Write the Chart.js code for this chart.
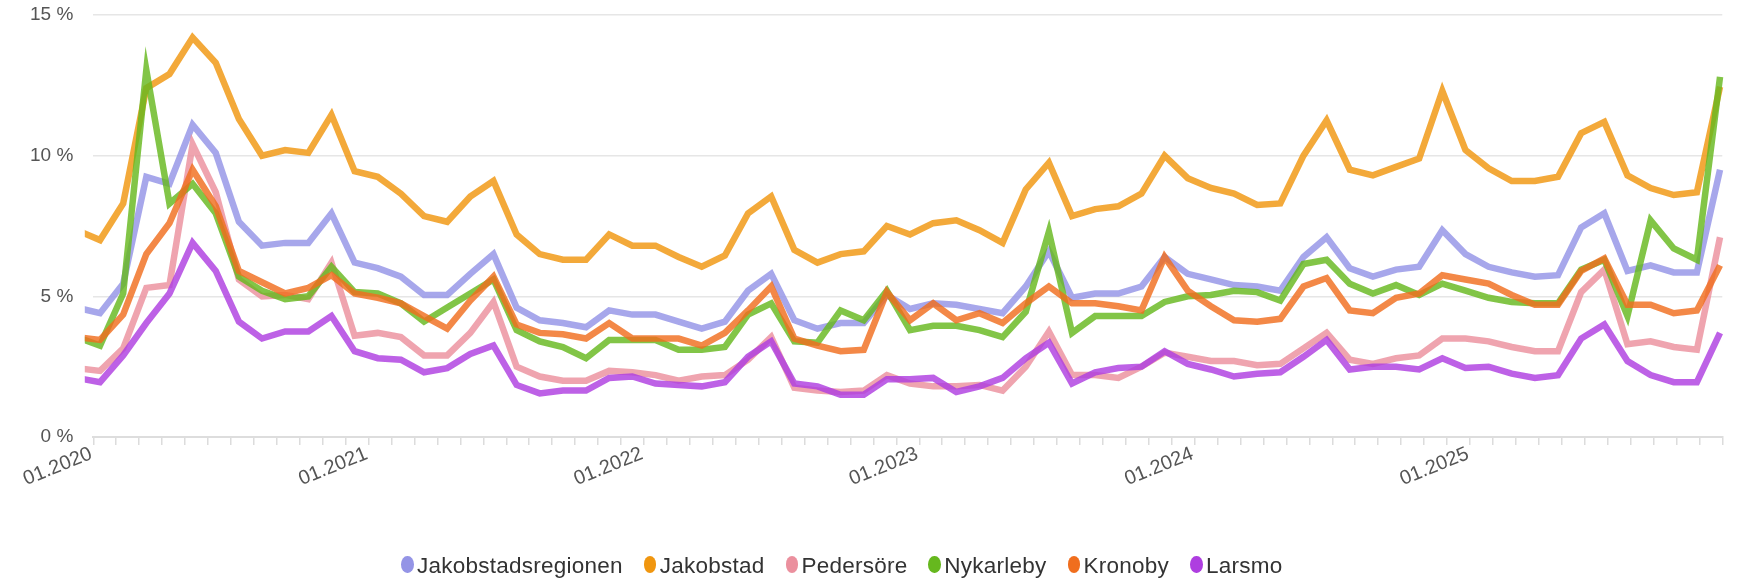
<!DOCTYPE html>
<html>
<head>
<meta charset="utf-8">
<title>Arbetslöshet</title>
<script src="https://cdn.jsdelivr.net/npm/chart.js@4/dist/chart.umd.min.js"></script>
<style>
  html, body { margin: 0; padding: 0; background: #fff; }
  #wrap { position: relative; width: 1737px; height: 579px; overflow: hidden; }
  #legend {
    position: absolute; left: 401px; top: 556px; height: 17px;
    display: flex; align-items: center; white-space: nowrap;
    font-family: 'Liberation Sans', Arial, sans-serif; font-size: 22.5px; line-height: 17px;
    letter-spacing: 0.25px; color: #333;
  }
  #legend .item { display: flex; align-items: center; margin-right: 21px; }
  #legend .dot { width: 12.5px; height: 16.5px; border-radius: 50%; margin-right: 3.4px; }
  #legend .txt { position: relative; top: 1px; }
</style>
</head>
<body>
<div id="wrap">
  <canvas id="chart" width="1737" height="579"></canvas>
  <div id="legend"></div>
</div>
<script>
// Months 01.2020 – 12.2025
const months = [];
for (let y = 2020; y <= 2025; y++) {
  for (let m = 1; m <= 12; m++) months.push(String(m).padStart(2, '0') + '.' + y);
}
// Axis labels: January of each year, except the last year's closing tick
const tickLabels = months.map((m, i) => (m.startsWith('01.') && i <= 60) ? m : '');

const seriesNames = ['Jakobstadsregionen', 'Jakobstad', 'Pedersöre', 'Nykarleby', 'Kronoby', 'Larsmo'];
const seriesColors = ['#9494e6', '#f0960f', '#eb909e', '#66b81e', '#f06e1e', '#ae3ee0'];

// Unemployment rate, %
const jakobstadsregionen = [
  4.6, 4.4, 5.45, 9.25, 9.0, 11.1, 10.1, 7.65, 6.8, 6.9, 6.9, 7.95,
  6.2, 6.0, 5.7, 5.05, 5.05, 5.8, 6.5, 4.6, 4.15, 4.05, 3.9, 4.5,
  4.35, 4.35, 4.1, 3.85, 4.1, 5.2, 5.8, 4.15, 3.85, 4.05, 4.05, 5.05,
  4.55, 4.75, 4.7, 4.55, 4.4, 5.35, 6.6, 4.95, 5.1, 5.1, 5.35, 6.4,
  5.8, 5.6, 5.4, 5.35, 5.2, 6.4, 7.1, 6.0, 5.7, 5.95, 6.05, 7.35,
  6.5, 6.05, 5.85, 5.7, 5.75, 7.45, 7.95, 5.9, 6.1, 5.85, 5.85, 9.5
];
const jakobstad = [
  7.35, 7.0, 8.3, 12.4, 12.9, 14.2, 13.3, 11.3, 10.0, 10.2, 10.1, 11.45,
  9.45, 9.25, 8.65, 7.85, 7.65, 8.55, 9.1, 7.2, 6.5, 6.3, 6.3, 7.2,
  6.8, 6.8, 6.4, 6.05, 6.45, 7.95, 8.55, 6.65, 6.2, 6.5, 6.6, 7.5,
  7.2, 7.6, 7.7, 7.35, 6.9, 8.8, 9.75, 7.85, 8.1, 8.2, 8.65, 10.0,
  9.2, 8.85, 8.65, 8.25, 8.3, 10.0, 11.25, 9.5, 9.3, 9.6, 9.9, 12.3,
  10.2, 9.55, 9.1, 9.1, 9.25, 10.8, 11.2, 9.3, 8.85, 8.6, 8.7, 12.45
];
const pedersore = [
  2.45, 2.35, 3.15, 5.3, 5.4, 10.4, 8.7, 5.6, 5.0, 5.05, 4.9, 6.2,
  3.6, 3.7, 3.55, 2.9, 2.9, 3.7, 4.8, 2.5, 2.15, 2.0, 2.0, 2.35,
  2.3, 2.2, 2.0, 2.15, 2.2, 2.75, 3.55, 1.75, 1.65, 1.6, 1.65, 2.2,
  1.9, 1.8, 1.8, 1.85, 1.65, 2.5, 3.75, 2.2, 2.2, 2.1, 2.5, 3.0,
  2.85, 2.7, 2.7, 2.55, 2.6, 3.15, 3.7, 2.75, 2.6, 2.8, 2.9, 3.5,
  3.5, 3.4, 3.2, 3.05, 3.05, 5.15, 5.95, 3.3, 3.4, 3.2, 3.1, 7.1
];
const nykarleby = [
  3.55, 3.25, 5.1, 13.05, 8.3, 9.0, 7.95, 5.7, 5.2, 4.9, 5.0, 6.05,
  5.15, 5.1, 4.75, 4.1, 4.6, 5.1, 5.6, 3.8, 3.4, 3.2, 2.8, 3.45,
  3.45, 3.45, 3.1, 3.1, 3.2, 4.35, 4.75, 3.4, 3.35, 4.5, 4.15, 5.2,
  3.8, 3.95, 3.95, 3.8, 3.55, 4.45, 7.3, 3.7, 4.3, 4.3, 4.3, 4.8,
  5.0, 5.05, 5.2, 5.15, 4.85, 6.15, 6.3, 5.45, 5.1, 5.4, 5.05, 5.45,
  5.2, 4.95, 4.8, 4.75, 4.75, 5.95, 6.3, 4.3, 7.7, 6.7, 6.3, 12.8
];
const kronoby = [
  3.55, 3.45, 4.35, 6.5, 7.6, 9.5, 8.2, 5.9, 5.5, 5.1, 5.3, 5.75,
  5.1, 4.95, 4.75, 4.3, 3.85, 4.85, 5.7, 4.0, 3.7, 3.65, 3.5, 4.05,
  3.5, 3.5, 3.5, 3.25, 3.7, 4.5, 5.35, 3.5, 3.25, 3.05, 3.1, 5.15,
  4.15, 4.75, 4.15, 4.4, 4.05, 4.75, 5.35, 4.75, 4.75, 4.65, 4.5, 6.4,
  5.2, 4.65, 4.15, 4.1, 4.2, 5.35, 5.65, 4.5, 4.4, 4.95, 5.1, 5.75,
  5.6, 5.45, 5.05, 4.7, 4.7, 5.9, 6.35, 4.7, 4.7, 4.4, 4.5, 6.1
];
const larsmo = [
  2.1, 1.95, 2.9, 4.05, 5.1, 6.9, 5.9, 4.1, 3.5, 3.75, 3.75, 4.3,
  3.05, 2.8, 2.75, 2.3, 2.45, 2.95, 3.25, 1.85, 1.55, 1.65, 1.65, 2.1,
  2.15, 1.9, 1.85, 1.8, 1.95, 2.85, 3.4, 1.9, 1.8, 1.5, 1.5, 2.05,
  2.05, 2.1, 1.6, 1.8, 2.1, 2.8, 3.35, 1.9, 2.3, 2.45, 2.5, 3.05,
  2.6, 2.4, 2.15, 2.25, 2.3, 2.85, 3.45, 2.4, 2.5, 2.5, 2.4, 2.8,
  2.45, 2.5, 2.25, 2.1, 2.2, 3.5, 4.0, 2.7, 2.2, 1.95, 1.95, 3.7
];
const seriesValues = [jakobstadsregionen, jakobstad, pedersore, nykarleby, kronoby, larsmo];

// Axis tick grid (in month units of the data index)
const tickStart = 0.709;
const tickStep = 0.9914;
const tickCount = months.length;

function withAlpha(hex, a) {
  const n = parseInt(hex.slice(1), 16);
  return 'rgba(' + (n >> 16) + ',' + ((n >> 8) & 255) + ',' + (n & 255) + ',' + a + ')';
}

// Legend rendered as HTML from the chart's own legend items
const htmlLegend = {
  id: 'htmlLegend',
  afterUpdate(chart) {
    const box = document.getElementById('legend');
    box.innerHTML = '';
    const items = chart.options.plugins.legend.labels.generateLabels(chart);
    items.sort((a, b) => a.datasetIndex - b.datasetIndex).forEach(item => {
      const el = document.createElement('div');
      el.className = 'item';
      const dot = document.createElement('span');
      dot.className = 'dot';
      dot.style.background = item.fillStyle;
      const txt = document.createElement('span');
      txt.className = 'txt';
      txt.textContent = item.text;
      el.appendChild(dot);
      el.appendChild(txt);
      box.appendChild(el);
    });
  }
};

Chart.defaults.font.family = "'Liberation Sans', Arial, sans-serif";

new Chart(document.getElementById('chart'), {
  type: 'line',
  data: {
    labels: months,
    datasets: seriesNames.map((name, s) => ({
      label: name,
      data: seriesValues[s].map((v, i) => ({ x: i, y: v })),
      borderColor: withAlpha(seriesColors[s], 0.82),
      backgroundColor: seriesColors[s],
      borderWidth: 6.5,
      pointRadius: 0,
      pointHoverRadius: 0,
      tension: 0,
      fill: false,
      order: seriesNames.length - s,
      clip: { left: 8.5, top: false, right: false, bottom: false }
    }))
  },
  options: {
    responsive: false,
    animation: false,
    devicePixelRatio: 1,
    layout: { padding: { left: 0, right: 14.7, top: 15, bottom: 62 } },
    plugins: {
      legend: { display: false },
      tooltip: { enabled: false },
      title: { display: false }
    },
    scales: {
      x: {
        type: 'linear',
        min: tickStart,
        max: tickStart + tickStep * (tickCount - 1),
        afterBuildTicks(scale) {
          scale.ticks = months.map((_, k) => ({ value: tickStart + k * tickStep }));
        },
        afterFit(scale) { scale.height = 80; },
        ticks: {
          autoSkip: false,
          minRotation: 22,
          maxRotation: 22,
          padding: -3,
          labelOffset: -2,
          color: '#555',
          font: { size: 20 },
          callback: (v, i) => tickLabels[i]
        },
        grid: { drawOnChartArea: false, drawTicks: true, tickLength: 8, color: '#dcdcdc', lineWidth: 1.5 },
        border: { display: true, color: '#dddddd', width: 2 }
      },
      y: {
        min: 0,
        max: 15,
        afterFit(scale) {
          scale.width = 93.3;
          scale.paddingTop = 0;
          scale.paddingBottom = 0;
        },
        ticks: {
          stepSize: 5,
          padding: 20,
          color: '#555',
          font: { size: 19 },
          callback: v => v + ' %'
        },
        grid: { color: '#e6e6e6', lineWidth: 1.5, drawTicks: false },
        border: { display: false }
      }
    }
  },
  plugins: [htmlLegend]
});
</script>
</body>
</html>
